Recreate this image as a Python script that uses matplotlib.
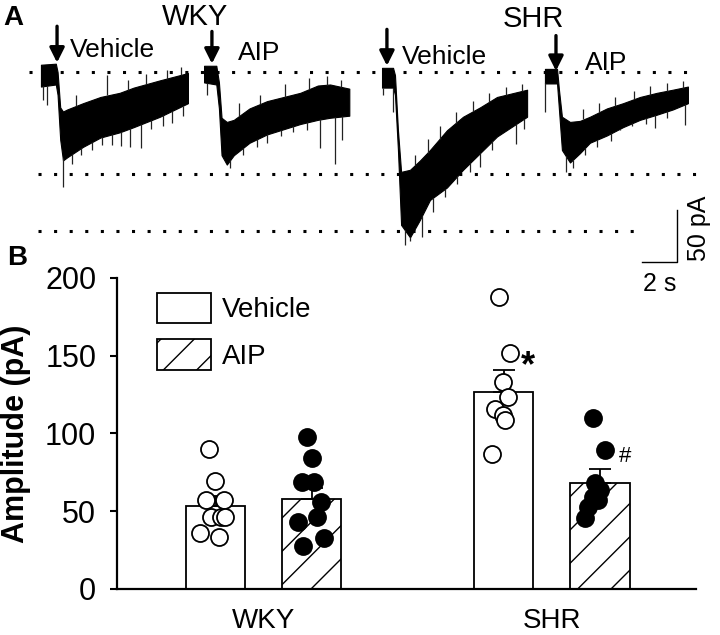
import matplotlib.pyplot as plt
import numpy as np
from matplotlib.patches import Patch

plt.rcParams['font.family'] = ['Liberation Sans', 'DejaVu Sans']
plt.rcParams['hatch.linewidth'] = 1.0

# ---- panel A: current traces (time in s, current in pA), envelopes
trace_start = [2.34, 11.66, 21.83, 31.14]   # where each sweep begins on the shared time axis
arrow_at = [0.92, 0.45, 0.28, 0.63]          # drug application, relative to sweep start
arrow_top = [44, 39, 41, 35]
arrow_tip = [9, 8, 6, 1]

t_wky_veh = [0, 0.85, 0.95, 1.1, 1.26, 1.5, 2.4, 3.4, 4.5, 5.3, 6.8, 8.4]
up_wky_veh = [7, 8, 0, -34, -38, -36, -30, -24, -20, -15, -8, -1]
lo_wky_veh = [-14, -12, -22, -65, -85, -82, -72, -63, -58, -53, -43, -30]
spk_t_wky_veh = [0.1, 0.35, 1.24, 1.8, 2.3, 2.9, 3.5, 4.06, 4.6, 5.1, 5.7, 6.3, 7.0, 7.5, 8.1]
spk_wky_veh = [-27, -32, -111, -88, -80, -75, -70, -70, -71, -72, -73, -55, -52, -49, -42]
up_t_wky_veh = [2.0, 3.8, 5.0, 6.0, 7.2, 8.0]
up_spk_wky_veh = [-22, -3, -8, -2, 2, 5]

t_wky_aip = [0, 0.7, 0.85, 1.0, 1.3, 1.7, 2.6, 3.6, 5.5, 6.5, 7.2, 8.3]
up_wky_aip = [6, 6, -10, -44, -48, -46, -35, -28, -20, -13, -12, -16]
lo_wky_aip = [-10, -12, -35, -80, -89, -80, -68, -60, -50, -46, -44, -42]
spk_t_wky_aip = [0.17, 1.5, 2.2, 3.0, 3.6, 4.4, 5.1, 5.9, 6.63, 7.49, 7.9]
spk_wky_aip = [-22, -92, -80, -72, -68, -62, -58, -56, -73, -88, -65]
up_t_wky_aip = [2.0, 3.2, 4.6, 6.0, 7.0, 7.8]
up_spk_wky_aip = [-30, -22, -12, -6, -4, -8]

t_shr_veh = [0, 0.63, 0.74, 0.91, 1.09, 1.6, 2.17, 2.74, 3.71, 4.63, 5.6, 6.57, 8.29]
up_shr_veh = [4, 4, -3, -56, -96, -94, -85, -75, -56, -43, -34, -24, -17]
lo_shr_veh = [-15, -15, -22, -75, -147, -159, -142, -123, -111, -94, -78, -62, -43]
spk_t_shr_veh = [0.05, 0.63, 1.3, 1.6, 2.29, 2.9, 3.6, 4.3, 5.0, 5.6, 6.3, 7.66, 8.1]
spk_shr_veh = [-22, -38, -166, -162, -159, -135, -120, -108, -96, -91, -75, -69, -55]
up_t_shr_veh = [1.9, 2.6, 3.3, 4.2, 5.2, 6.1, 7.1, 8.0]
up_spk_shr_veh = [-80, -64, -52, -38, -28, -20, -14, -12]

t_shr_aip = [0, 0.69, 0.8, 0.97, 1.43, 2.0, 2.57, 3.54, 4.46, 5.43, 6.4, 7.31, 8.17]
up_shr_aip = [3, 3, -17, -43, -48, -47, -43, -35, -30, -24, -20, -17, -14]
lo_shr_aip = [-11, -11, -36, -75, -87, -78, -68, -61, -53, -46, -41, -36, -30]
spk_t_shr_aip = [0.02, 1.2, 1.6, 2.3, 3.0, 3.8, 4.29, 5.0, 5.8, 6.29, 7.0, 8.0]
spk_shr_aip = [-38, -96, -92, -80, -72, -66, -56, -52, -50, -54, -44, -51]
up_t_shr_aip = [2.2, 3.1, 4.0, 5.1, 6.0, 7.0, 7.9]
up_spk_shr_aip = [-36, -30, -24, -18, -13, -11, -9]

ref_levels = [0, -98, -153]                  # dotted reference lines (pA)
ref_span = [(1.66, 39.6), (2.17, 40.1), (2.17, 36.46)]

# ---- panel B: amplitudes (pA)
groups = ['WKY', 'SHR']
veh_mean = [53.3, 126.8]
veh_sem = [6.5, 14.0]
aip_mean = [57.8, 68.3]
aip_sem = [7.0, 8.7]

wky_veh_pts = [89.8, 69.6, 57.2, 57.2, 46.1, 46.5, 46.5, 35.8, 33.2]
wky_veh_dx = [-0.025, -0.003, -0.034, 0.027, -0.017, 0.018, 0.033, -0.054, 0.010]
wky_aip_pts = [97.5, 84, 69, 69, 56, 43.3, 46, 27.6, 32.6]
wky_aip_dx = [-0.018, -0.001, -0.036, 0.007, 0.030, -0.048, 0.016, -0.030, 0.042]
shr_veh_pts = [187.9, 151.5, 133.2, 123.2, 115.5, 111.8, 108.6, 86.8]
shr_veh_dx = [-0.016, 0.021, -0.005, 0.015, -0.031, -0.002, 0.003, -0.043]
shr_aip_pts = [109.7, 89.3, 67.9, 63.6, 59.3, 57.2, 52.9, 45.4]
shr_aip_dx = [-0.023, 0.017, -0.017, 0.0, -0.023, -0.006, -0.041, -0.052]


fig = plt.figure(figsize=(7.2, 6.35), dpi=100)

axa = fig.add_axes([0, 1 - 300 / 635, 1, 300 / 635])
axa.set_xlim(0, 720 / 17.5)
axa.set_ylim(-219.2, 69.23)
axa.axis('off')

traces = [
    (t_wky_veh, up_wky_veh, lo_wky_veh, spk_t_wky_veh, spk_wky_veh, up_t_wky_veh, up_spk_wky_veh),
    (t_wky_aip, up_wky_aip, lo_wky_aip, spk_t_wky_aip, spk_wky_aip, up_t_wky_aip, up_spk_wky_aip),
    (t_shr_veh, up_shr_veh, lo_shr_veh, spk_t_shr_veh, spk_shr_veh, up_t_shr_veh, up_spk_shr_veh),
    (t_shr_aip, up_shr_aip, lo_shr_aip, spk_t_shr_aip, spk_shr_aip, up_t_shr_aip, up_spk_shr_aip),
]
for i, (t, up, lo, st, sv, ut, uv) in enumerate(traces):
    t = np.asarray(t) + trace_start[i]
    axa.fill_between(t, lo, up, color='black', lw=0.8)
    st = np.asarray(st) + trace_start[i]
    axa.vlines(st, np.interp(st, t, lo), sv, color='#222222', lw=0.9)
    ut = np.asarray(ut) + trace_start[i]
    axa.vlines(ut, np.interp(ut, t, up), uv, color='#222222', lw=0.9)
    xa = trace_start[i] + arrow_at[i]
    axa.annotate('', xy=(xa, arrow_tip[i]), xytext=(xa, arrow_top[i]),
                 arrowprops=dict(arrowstyle='-|>', color='black', lw=2.4,
                                 mutation_scale=22, shrinkA=0, shrinkB=0))

for lvl, (x0, x1) in zip(ref_levels, ref_span):
    axa.plot([x0, x1], [lvl, lvl], color='black', lw=2.2,
             linestyle=(0, (1, 4.1)), dash_capstyle='butt')

# scale bar: 2 s, 50 pA
axa.plot([36.69, 38.69, 38.69], [-182.7, -182.7, -132.7], color='black', lw=1.0)
axa.text(39.94, -150, '50 pA', rotation=90, ha='center', va='center', fontsize=18)
axa.text(37.7, -203.8, '2 s', ha='center', va='center', fontsize=18)

axa.text(0.17, 45.2, 'A', fontsize=20, fontweight='bold', va='baseline')
axa.text(11.14, 45.2, 'WKY', fontsize=21, ha='center', va='baseline')
axa.text(30.5, 43.3, 'SHR', fontsize=21, ha='center', va='baseline')
axa.text(4.0, 14.4, 'Vehicle', fontsize=19, va='baseline')
axa.text(13.6, 11.5, 'AIP', fontsize=19, va='baseline')
axa.text(22.97, 7.7, 'Vehicle', fontsize=19, va='baseline')
axa.text(33.43, 1.9, 'AIP', fontsize=19, va='baseline')

# ---- panel B
axb = fig.add_axes([117 / 720, 46 / 635, 579 / 720, 311.3 / 635])
axb.patch.set_alpha(0)
x = np.arange(len(groups))
off, w = 0.1667, 0.205

axb.bar(x - off, veh_mean, width=w, color='white', edgecolor='black', lw=1.3, zorder=2)
axb.bar(x + off, aip_mean, width=w, color='white', edgecolor='black', lw=1.3,
        hatch='/', zorder=2)
axb.errorbar(x - off, veh_mean, yerr=[[0, 0], veh_sem], fmt='none', ecolor='black',
             elinewidth=1.3, capsize=8, capthick=1.3, zorder=3)
axb.errorbar(x + off, aip_mean, yerr=[[0, 0], aip_sem], fmt='none', ecolor='black',
             elinewidth=1.3, capsize=8, capthick=1.3, zorder=3)

pts = [(0 - off, wky_veh_pts, wky_veh_dx, 'white'),
       (0 + off, wky_aip_pts, wky_aip_dx, 'black'),
       (1 - off, shr_veh_pts, shr_veh_dx, 'white'),
       (1 + off, shr_aip_pts, shr_aip_dx, 'black')]
for xc, vals, dx, fc in pts:
    axb.scatter(xc + np.asarray(dx), vals, s=150, facecolor=fc, edgecolor='black',
                lw=1.3, zorder=4)

axb.text(0.917, 143, '*', fontsize=26, fontweight='bold', ha='center', va='center')
axb.text(1.253, 85, '#', fontsize=16, ha='center', va='center')

axb.set_xlim(-0.51, 1.5)
axb.set_ylim(0, 200)
axb.set_yticks([0, 50, 100, 150, 200])
axb.set_xticks(x)
axb.set_xticklabels(groups)
axb.tick_params(axis='y', labelsize=22, length=5, width=1.5, pad=10)
axb.tick_params(axis='x', labelsize=20, length=0, pad=14)
axb.set_ylabel('Amplitude (pA)', fontsize=22, fontweight='bold', labelpad=10)
for s in ['top', 'right']:
    axb.spines[s].set_visible(False)
for s in ['left', 'bottom']:
    axb.spines[s].set_linewidth(1.6)

handles = [Patch(facecolor='white', edgecolor='black', lw=1.3, label='Vehicle'),
           Patch(facecolor='white', edgecolor='black', lw=1.3, hatch='/', label='AIP')]
axb.legend(handles=handles, loc='upper left', bbox_to_anchor=(0.069, 0.951),
           frameon=False, fontsize=20, borderpad=0, borderaxespad=0,
           handlelength=1.94, handleheight=1.3, handletextpad=0.4, labelspacing=0.57)

fig.text(7 / 720, 1 - 265 / 635, 'B', fontsize=20, fontweight='bold', va='baseline')

fig.savefig('out.png', dpi=100)
